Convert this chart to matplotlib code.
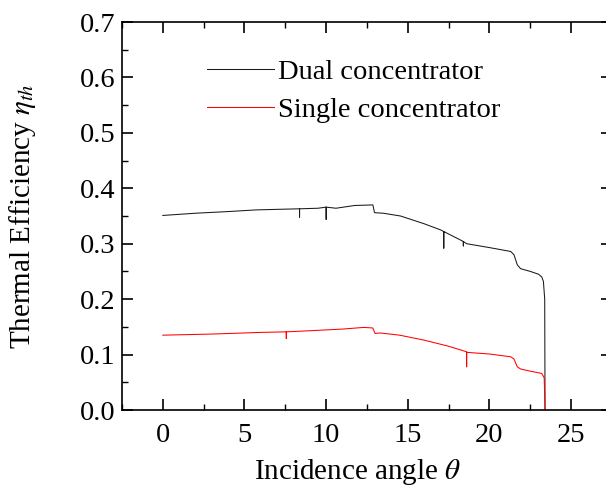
import matplotlib
matplotlib.use("Agg")
import matplotlib.pyplot as plt
from matplotlib.ticker import MultipleLocator

plt.rcParams.update({
    "font.family": "serif",
    "font.serif": ["Liberation Serif", "DejaVu Serif"],
    "mathtext.fontset": "stix",
    "font.size": 20.5,
    "xtick.direction": "in",
    "ytick.direction": "in",
    "xtick.top": True,
    "ytick.right": True,
})

# Dual concentrator (spikes are stored as x, x, x triples)
dual_angle = [0, 2, 4, 5.7, 7, 8.37, 8.37, 8.37, 9.5, 10.0, 10.0, 10.0, 10.6,
              11.75, 12.86, 12.96, 13.5, 14.55, 16, 17.0, 17.2, 17.2, 17.2,
              17.8, 18.4, 18.4, 18.4, 18.6, 20, 21.3, 21.5, 21.7, 21.9, 22.5,
              23.0, 23.2, 23.3, 23.38, 23.4]
dual_eff = [0.351, 0.355, 0.358, 0.361, 0.362, 0.363, 0.348, 0.363, 0.364,
            0.366, 0.344, 0.366, 0.364, 0.369, 0.370, 0.356, 0.355, 0.350,
            0.336, 0.325, 0.322, 0.292, 0.322, 0.313, 0.304, 0.296, 0.304,
            0.300, 0.293, 0.286, 0.280, 0.262, 0.255, 0.250, 0.245, 0.240,
            0.232, 0.200, 0.0]

# Single concentrator
single_angle = [0, 3, 6, 7.56, 7.56, 7.56, 9, 11, 12.3, 12.85, 13.0, 13.3,
                14.5, 16, 17.5, 18.6, 18.6, 18.6, 20, 21.3, 21.5, 21.7, 21.9,
                22.5, 23.2, 23.35, 23.4]
single_eff = [0.135, 0.137, 0.140, 0.141, 0.129, 0.141, 0.143, 0.146, 0.149,
              0.148, 0.138, 0.139, 0.135, 0.126, 0.115, 0.105, 0.078, 0.104,
              0.101, 0.096, 0.092, 0.078, 0.074, 0.070, 0.066, 0.058, 0.0]

fig = plt.figure(figsize=(6.06, 4.91), dpi=100)
ax = fig.add_axes([122 / 606, 1 - 410 / 491, 490 / 606, 388 / 491])

ax.plot(dual_angle, dual_eff, color="#1a1a1a", lw=0.75, label="Dual concentrator")
ax.plot(single_angle, single_eff, color="red", lw=0.75, label="Single concentrator")

ax.set_xlim(-2.5, 27.5)
ax.set_ylim(0, 0.7)
ax.xaxis.set_major_locator(MultipleLocator(5))
ax.xaxis.set_minor_locator(MultipleLocator(2.5))
ax.yaxis.set_major_locator(MultipleLocator(0.1))
ax.yaxis.set_minor_locator(MultipleLocator(0.05))
ax.tick_params(which="major", length=8, width=1.2, labelsize=20.5)
ax.tick_params(which="minor", length=4, width=1.0)
ax.tick_params(axis="x", which="major", pad=9)
ax.tick_params(axis="y", which="major", pad=5)
ax.yaxis.set_major_formatter(plt.FormatStrFormatter("%.1f"))
for s in ax.spines.values():
    s.set_linewidth(1.2)

ax.set_xlabel(r"Incidence angle $\theta$", fontsize=21, labelpad=6)
ax.set_ylabel(r"Thermal Efficiency $\eta_{th}$", fontsize=21)
ax.yaxis.set_label_coords(-0.172, 0.5)
ax.xaxis.set_label_coords(0.48, -0.12)
ax.xaxis.label.set_va("top")

ax.legend(loc="upper left", bbox_to_anchor=(0.173, 0.905), frameon=False,
          fontsize=20.5, handlelength=2.35, handletextpad=0.15,
          labelspacing=0.42, borderpad=0, borderaxespad=0)

fig.savefig("out.png", dpi=100)
